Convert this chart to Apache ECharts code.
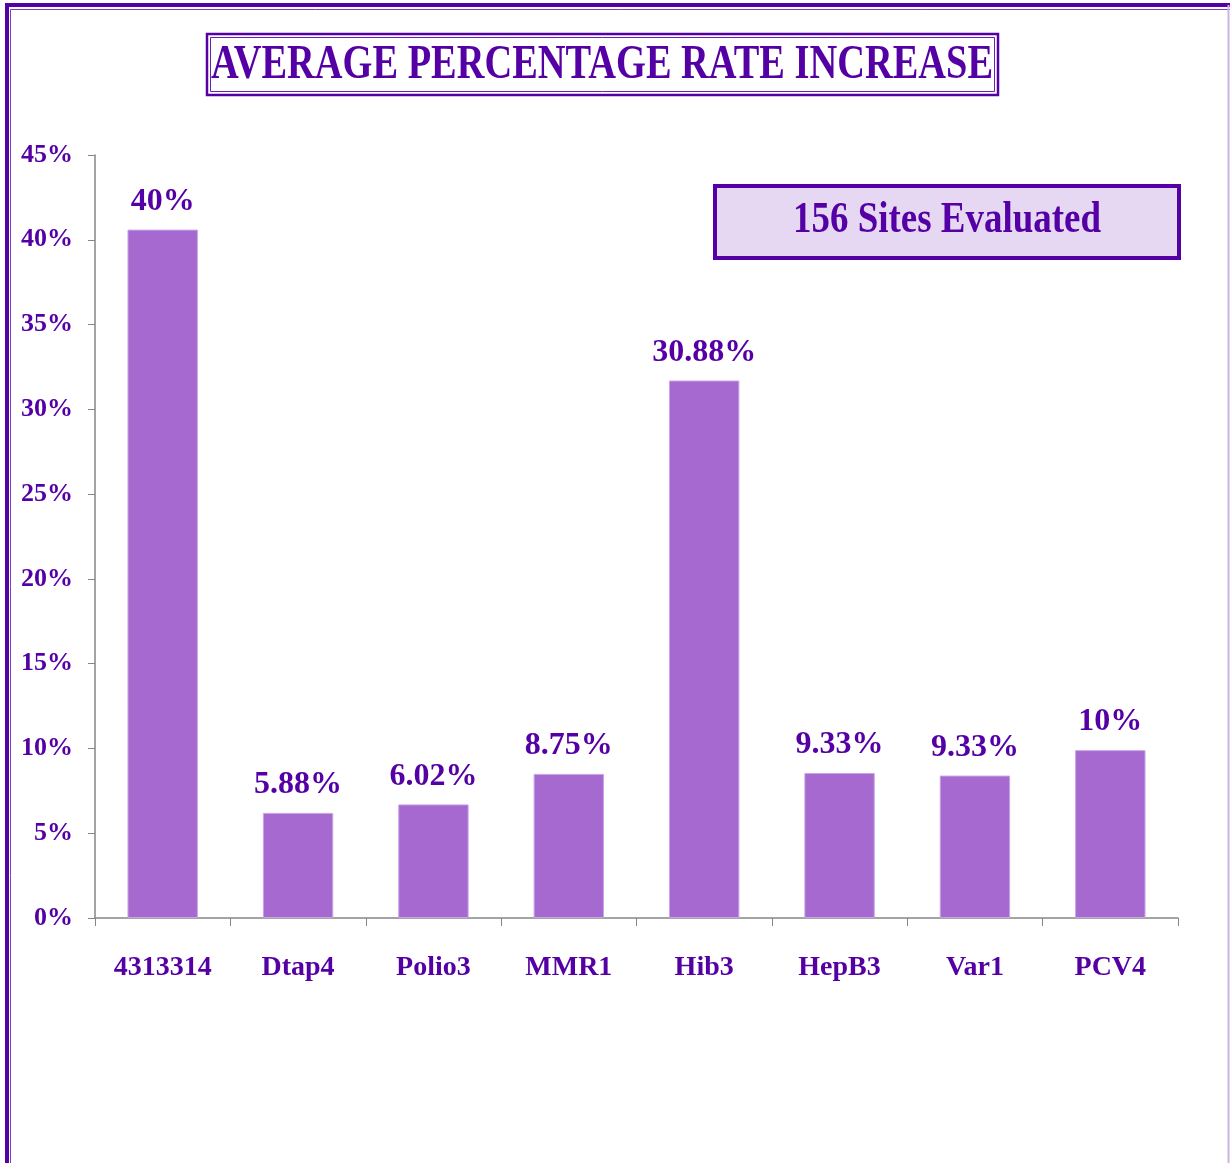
<!DOCTYPE html>
<html>
<head>
<meta charset="utf-8">
<script src="https://cdn.jsdelivr.net/npm/echarts@6/dist/echarts.min.js"></script>
<style>
  html, body { margin: 0; padding: 0; background: #fff; }
  #main { width: 1230px; height: 1163px; }
</style>
</head>
<body>
<div id="main"></div>
<script>
// data
var categories = ['4313314', 'Dtap4', 'Polio3', 'MMR1', 'Hib3', 'HepB3', 'Var1', 'PCV4'];
var values = [40.6, 6.2, 6.7, 8.5, 31.7, 8.55, 8.4, 9.9];
var barLabels = ['40%', '5.88%', '6.02%', '8.75%', '30.88%', '9.33%', '9.33%', '10%'];
var titleText = 'AVERAGE PERCENTAGE RATE INCREASE';
var noteText = '156 Sites Evaluated';

var purple = '#5500a5';
var serif = '"Liberation Serif", "DejaVu Serif", serif';

var myChart = echarts.init(document.getElementById('main'));

var option = {
  backgroundColor: '#fff',
  animation: false,
  grid: { left: 95, right: 52, top: 155, bottom: 245 },
  xAxis: {
    type: 'category',
    data: categories,
    axisLine: { lineStyle: { color: '#868686', width: 1.5 } },
    axisTick: { show: true, length: 8, lineStyle: { color: '#868686' } },
    axisLabel: {
      margin: 36,
      color: purple,
      fontFamily: serif,
      fontWeight: 'bold',
      fontSize: 28
    }
  },
  yAxis: {
    type: 'value',
    min: 0,
    max: 45,
    interval: 5,
    splitLine: { show: false },
    axisLine: { show: true, lineStyle: { color: '#868686', width: 1.5 } },
    axisTick: { show: true, length: 7, lineStyle: { color: '#868686' } },
    axisLabel: {
      margin: 22,
      formatter: '{value}%',
      color: purple,
      fontFamily: serif,
      fontWeight: 'bold',
      fontSize: 26
    }
  },
  series: [{
    type: 'bar',
    data: values,
    barWidth: '52%',
    itemStyle: { color: '#a569d0', borderColor: '#c9a4e6', borderWidth: 1 },
    label: {
      show: true,
      position: 'top',
      distance: 12,
      formatter: function (p) { return barLabels[p.dataIndex]; },
      color: purple,
      fontFamily: serif,
      fontWeight: 'bold',
      fontSize: 32
    }
  }],
  graphic: [
    // outer frame
    { type: 'rect', shape: { x: 7, y: 5, width: 1260, height: 1220 },
      style: { fill: null, stroke: purple, lineWidth: 4 } },
    { type: 'rect', shape: { x: 10.5, y: 9.5, width: 1260, height: 1220 },
      style: { fill: null, stroke: '#7a3cc0', lineWidth: 1 } },
    { type: 'line', shape: { x1: 1228.5, y1: 5, x2: 1228.5, y2: 1163 },
      style: { stroke: '#cdb5e3', lineWidth: 2 } },
    // title box
    { type: 'rect', shape: { x: 207, y: 34, width: 791, height: 61 },
      style: { fill: '#fff', stroke: purple, lineWidth: 2.5 } },
    { type: 'rect', shape: { x: 210.5, y: 37.5, width: 784, height: 54 },
      style: { fill: null, stroke: '#6a1fb5', lineWidth: 1 } },
    { type: 'text', x: 602, y: 66, scaleX: 0.8,
      style: { text: titleText, fill: purple, font: 'bold 48px ' + serif,
        textAlign: 'center', textVerticalAlign: 'middle' } },
    // note box
    { type: 'rect', shape: { x: 715, y: 186, width: 464, height: 72 },
      style: { fill: '#e6d8f2', stroke: purple, lineWidth: 4 } },
    { type: 'text', x: 947, y: 221, scaleX: 0.84,
      style: { text: noteText, fill: purple, font: 'bold 44px ' + serif,
        textAlign: 'center', textVerticalAlign: 'middle' } }
  ]
};

myChart.setOption(option);
</script>
</body>
</html>
